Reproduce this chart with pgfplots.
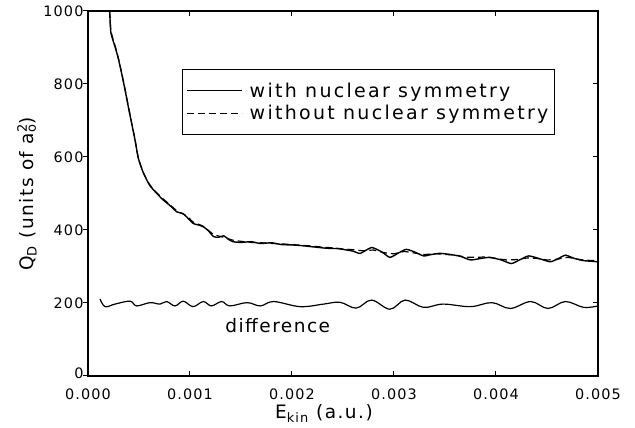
\documentclass[border=0pt]{standalone}
\usepackage{fontspec}
\setmainfont{DejaVu Sans}[LetterSpace=8]
\newfontfamily\legfont{DejaVu Sans}[LetterSpace=12]
\usepackage{pgfplots}
\pgfplotsset{compat=1.18}
\begin{document}
\begin{tikzpicture}
\path[use as bounding box] (-88pt,-52pt) rectangle (547pt,376pt);
\begin{axis}[
  scale only axis, width=510pt, height=365pt,
  xmin=0, xmax=0.005, ymin=0, ymax=1000,
  xtick={0,0.001,0.002,0.003,0.004,0.005},
  xticklabels={0.000,0.001,0.002,0.003,0.004,0.005},
  ytick={0,200,400,600,800,1000},
  yticklabels={\raisebox{6pt}{0},200,400,600,800,1000},
  scaled x ticks=false,
  xtick pos=both, ytick pos=left,
  tick align=inside,
  major tick length=5pt,
  ytick style={xshift=-5pt},
  tick style={line width=1pt, black},
  axis line style={line width=1.6pt},
  tick label style={font=\fontsize{14.4}{17}\selectfont},
  xticklabel style={yshift=-9pt},
  yticklabel style={xshift=-1pt},
  every axis x label/.style={at={(axis description cs:0.4627,-0.103)}, anchor=center},
  every axis y label/.style={at={(axis description cs:-0.1196,0.4986)}, rotate=90, anchor=center},
  label style={font=\fontsize{18.5}{22}\selectfont},
  xlabel={E\textsubscript{kin} (a.u.)},
  ylabel={Q\textsubscript{D} (units of a\makebox[0pt][l]{\textsuperscript{2}}\textsubscript{o})},
  legend style={at={(axis description cs:0.184,0.841)}, anchor=north west,
    draw=black, line width=1pt, inner xsep=4pt, inner ysep=11pt,
    font=\legfont\fontsize{19}{23}\selectfont,
    nodes={inner sep=2.3pt}, row sep=2pt, column sep=5pt},
  legend cell align=left,
  legend image code/.code={\draw[#1, line width=1.1pt] (5pt,0pt) -- (60pt,0pt);},
  clip=true,
]
\addplot[black, line width=1.4pt, smooth, tension=0.35] coordinates {
(0.000205,1030) (0.000212,1000) (0.000225,940) (0.000265,902) (0.000297,870)
(0.000330,829) (0.000363,784) (0.000395,738) (0.000428,692) (0.000461,647)
(0.000493,597) (0.000542,557) (0.000608,521) (0.000706,491) (0.000738,482)
(0.000800,468) (0.000869,450) (0.000930,445) (0.000967,436) (0.00103,418)
(0.00108,414) (0.00113,409) (0.00118,398) (0.00123,382) (0.00128,380)
(0.00133,384) (0.00138,374) (0.00142,368) (0.00150,366) (0.00160,368)
(0.00169,363) (0.00180,365) (0.00190,360) (0.00201,359) (0.00210,357)
(0.00220,354) (0.00234,350) (0.00245,349) (0.00254,345) (0.00260,342)
(0.00267,336) (0.00278,352) (0.00288,340) (0.00296,325) (0.00305,338)
(0.00312,347) (0.00320,340) (0.00329,329) (0.00337,333) (0.00345,336)
(0.00355,333) (0.00365,328) (0.00375,318) (0.00385,322) (0.00394,325)
(0.00405,318) (0.00415,308) (0.00423,318) (0.00432,329) (0.00442,322)
(0.00453,313) (0.00460,320) (0.00468,331) (0.00477,322) (0.00486,316)
(0.00500,313)
};
\addlegendentry{with nuclear symmetry}
\addplot[black, line width=1.2pt, dash pattern=on 7pt off 4pt, smooth, tension=0.35] coordinates {
(0.000205,1030) (0.000212,1000) (0.000225,945) (0.000265,905) (0.000297,872)
(0.00033,830) (0.000363,786) (0.000395,740) (0.000428,694) (0.000461,648)
(0.000493,598) (0.000542,558) (0.000608,523) (0.000706,493) (0.0008,470)
(0.00087,453) (0.00097,438) (0.00103,422) (0.00113,410) (0.00123,388)
(0.00133,380) (0.00142,372) (0.0015,369) (0.0016,366) (0.0017,365)
(0.0018,363) (0.0019,362) (0.002,360) (0.0021,358) (0.0022,356)
(0.0023,353) (0.0024,351) (0.0025,348) (0.0026,346) (0.0027,343)
(0.0028,345) (0.0029,338) (0.003,335) (0.0031,341) (0.0032,337)
(0.0033,333) (0.0034,335) (0.0035,333) (0.0036,331) (0.0037,326)
(0.0038,325) (0.0039,326) (0.004,322) (0.0041,318) (0.0042,319)
(0.0043,323) (0.0044,322) (0.0045,318) (0.0046,320) (0.0047,325)
(0.0048,320) (0.0049,317) (0.005,316)
};
\addlegendentry{without nuclear symmetry}
\addplot[black, line width=1.2pt, smooth, tension=0.6, forget plot] coordinates {
(0.000118,211) (0.000167,190) (0.000265,197) (0.000412,205) (0.000477,192)
(0.000608,201) (0.000706,197) (0.000771,204) (0.000853,192) (0.000934,205)
(0.00103,190) (0.00113,204) (0.00121,192) (0.00131,204) (0.00139,192)
(0.00156,201) (0.00169,192) (0.00182,204) (0.00208,190) (0.00231,197)
(0.00247,202) (0.00263,186) (0.00278,208) (0.00296,183) (0.00311,208)
(0.00329,188) (0.00348,197) (0.00375,190) (0.00396,201) (0.00414,185)
(0.00434,204) (0.00451,185) (0.00468,204) (0.00486,188) (0.00500,192)
};
\node[font=\fontsize{18.5}{22}\selectfont] at (axis cs:0.00186,137) {difference};
\end{axis}
\begin{axis}[
  scale only axis, width=510pt, height=365pt,
  xmin=0, xmax=0.005, ymin=0, ymax=1000,
  axis x line=none, axis y line*=right,
  ytick={200,400,600,800}, yticklabels={},
  tick align=inside, major tick length=5pt,
  tick style={line width=1pt, black},
  axis line style={line width=1.6pt},
]
\end{axis}
\end{tikzpicture}
\end{document}
